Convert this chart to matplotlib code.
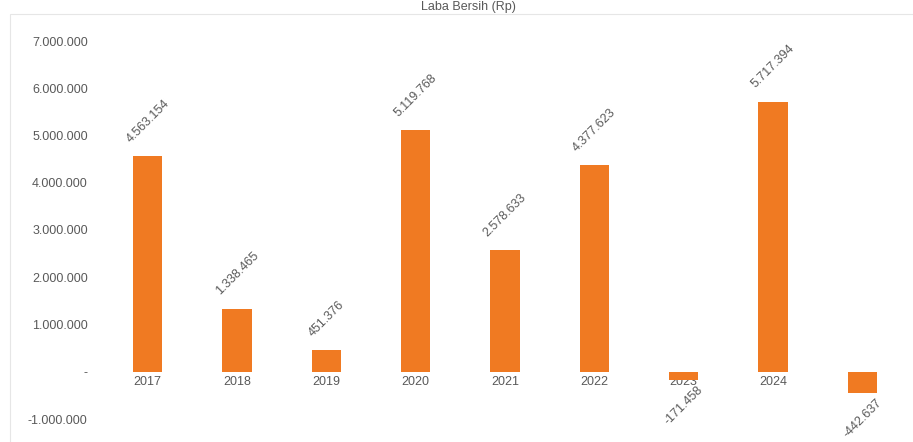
import matplotlib
matplotlib.use("Agg")
import matplotlib.pyplot as plt
from matplotlib.patches import Rectangle
from matplotlib.ticker import FuncFormatter

plt.rcParams['font.family'] = ['Liberation Sans', 'DejaVu Sans']

# データ
years = ["2017", "2018", "2019", "2020", "2021", "2022", "2023", "2024", "2025"]
values = [4563154, 1338465, 451376, 5119768, 2578633, 4377623, -171458, 5717394, -442637]
title_text = "Laba Bersih (Rp)"

bar_color = "#F07A22"
text_gray = "#595959"


def dot_fmt(v):
    s = f"{abs(int(round(v))):,}".replace(",", ".")
    return ("-" if v < 0 else "") + s


fig = plt.figure(figsize=(9.13, 4.42), dpi=100)
ax = fig.add_axes([103 / 913, 23 / 442, 804 / 913, 378 / 442])

x = range(len(years))
bars = ax.bar(x, values, width=0.33, color=bar_color, zorder=2)

# ラベル (45度)
for xi, v in zip(x, values):
    if v >= 0:
        ax.annotate(dot_fmt(v), (xi, v), xytext=(0, 8), textcoords="offset points",
                    rotation=45, ha="center", va="bottom", fontsize=9, color=text_gray)
    else:
        ax.annotate(dot_fmt(v), (xi, v), xytext=(0, -3), textcoords="offset points",
                    rotation=45, ha="center", va="top", fontsize=9, color=text_gray)

ax.set_xlim(-0.5, len(years) - 0.5)
ax.set_ylim(-1000000, 7000000)
ax.set_yticks(range(-1000000, 7000001, 1000000))
ax.yaxis.set_major_formatter(FuncFormatter(lambda v, p: dot_fmt(v) if v != 0 else "-"))
ax.set_xticks(list(x))
ax.set_xticklabels(years)

for side in ["top", "right", "left"]:
    ax.spines[side].set_visible(False)
ax.spines["bottom"].set_position(("data", 0))
ax.spines["bottom"].set_visible(False)
ax.tick_params(axis="both", length=0, labelsize=9, colors=text_gray)
ax.tick_params(axis="y", pad=11)
ax.tick_params(axis="x", pad=3)

# 枠線
fig.patches.append(Rectangle((10 / 913, -0.01), 1, 1 - 14 / 442 + 0.01, transform=fig.transFigure,
                             fill=False, edgecolor="#E6E6E6", linewidth=0.8))

# タイトル
fig.text(468 / 913, 1 - 1 / 442, title_text, ha="center", va="top",
         fontsize=9, color=text_gray)

fig.savefig("out.png", dpi=100)
